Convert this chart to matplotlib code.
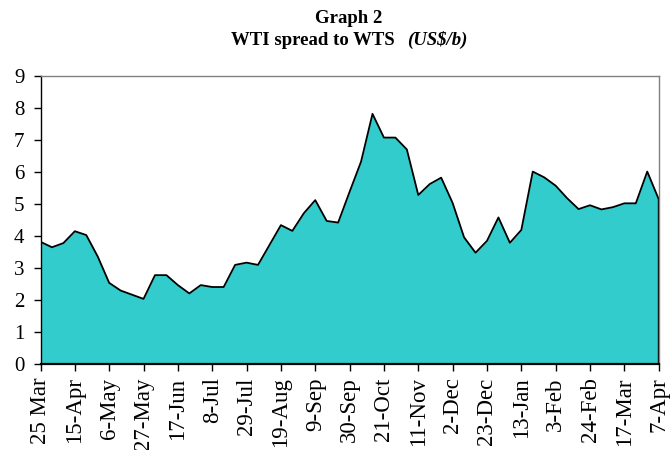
import matplotlib
matplotlib.use("Agg")
import matplotlib.pyplot as plt
import numpy as np

tick_labels = ["25 Mar", "15-Apr", "6-May", "27-May", "17-Jun", "8-Jul", "29-Jul",
               "19-Aug", "9-Sep", "30-Sep", "21-Oct", "11-Nov", "2-Dec", "23-Dec",
               "13-Jan", "3-Feb", "24-Feb", "17-Mar", "7-Apr"]

spread = [3.82, 3.65, 3.78, 4.15, 4.03, 3.36, 2.54, 2.30, 2.17, 2.04,
          2.78, 2.78, 2.47, 2.21, 2.47, 2.41, 2.41, 3.10, 3.17, 3.10,
          3.72, 4.34, 4.16, 4.71, 5.12, 4.47, 4.42, 5.38, 6.32, 7.81,
          7.07, 7.07, 6.70, 5.28, 5.62, 5.82, 5.03, 3.96, 3.48, 3.85,
          4.58, 3.79, 4.19, 6.01, 5.83, 5.57, 5.18, 4.84, 4.96, 4.83,
          4.90, 5.02, 5.02, 6.01, 5.15]

plt.rcParams['font.family'] = ['Liberation Serif', 'DejaVu Serif']

W, H = 670, 450
fig = plt.figure(figsize=(W/100, H/100), dpi=100)
ax = fig.add_axes([40.5/W, 1-364.3/H, (658.7-40.5)/W, (364.3-75.7)/H])

x = np.arange(len(spread))
ax.fill_between(x, 0, spread, color="#33CCCC", linewidth=0)
ax.plot(np.r_[x, x[-1]], np.r_[spread, 0], color="black", linewidth=1.3)

ax.set_xlim(0, len(spread) - 1)
ax.set_ylim(0, 9)
ax.set_yticks(range(0, 10))
ax.set_xticks(x[::3])
ax.set_xticklabels(tick_labels, rotation=90, va="top", ha="center")
ax.tick_params(axis="both", direction="out", length=5, width=1, color="black")
ax.tick_params(axis="x", pad=4.5, labelsize=16.5)
ax.tick_params(axis="y", pad=6.5, labelsize=15)

for s in ["top", "right"]:
    ax.spines[s].set_color("#808080")
    ax.spines[s].set_linewidth(1)
ax.spines["left"].set_color("black")
ax.spines["left"].set_linewidth(1)
ax.spines["bottom"].set_color("black")
ax.spines["bottom"].set_linewidth(1.6)

title_size = 13.5
cx = 349
fig.text(cx/W, 1-23/H, "Graph 2", ha="center", va="baseline",
         fontsize=title_size, fontweight="bold")
t1 = fig.text(0, 1-45/H, "WTI spread to WTS", ha="left", va="baseline",
              fontsize=title_size, fontweight="bold")
t2 = fig.text(0, 1-45/H, "(US$/b)", ha="left", va="baseline",
              fontsize=title_size, fontweight="bold", fontstyle="italic")
fig.canvas.draw()
r = fig.canvas.get_renderer()
w1 = t1.get_window_extent(r).width
w2 = t2.get_window_extent(r).width
gap = 13
x0 = cx - (w1 + gap + w2) / 2
t1.set_x(x0 / W)
t2.set_x((x0 + w1 + gap) / W)

fig.savefig("out.png", dpi=100)
